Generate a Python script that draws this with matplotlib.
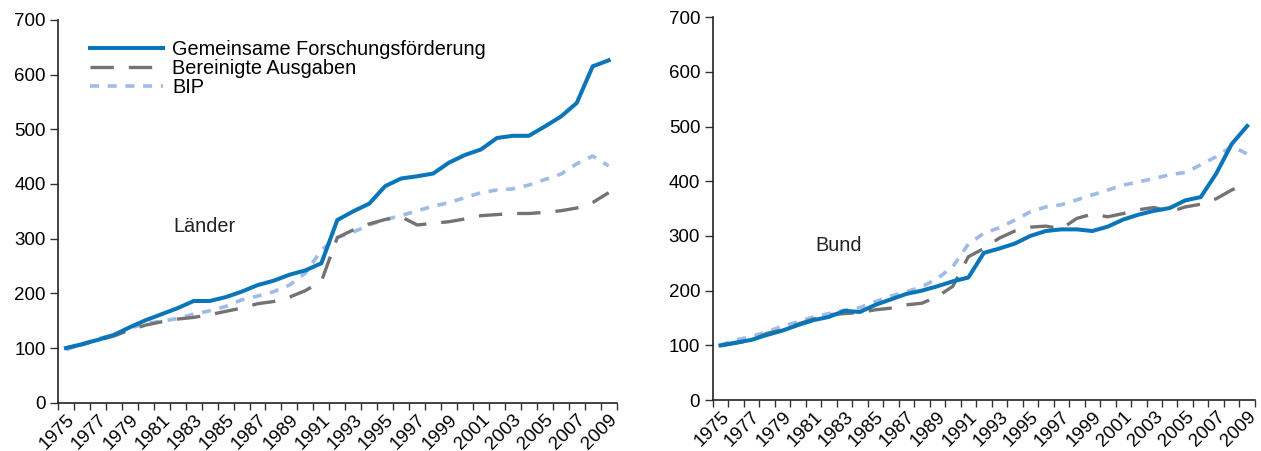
import numpy as np
import matplotlib
matplotlib.use("Agg")
import matplotlib.pyplot as plt
from matplotlib.transforms import ScaledTranslation

plt.rcParams["font.family"] = ["Liberation Sans", "DejaVu Sans"]

# ============================================================
# Data (index 1975 = 100)
# ============================================================

years = list(range(1975, 2010))

laender_gfo = [100, 107, 115, 124, 138, 151, 162, 173, 186, 186, 193, 203,
               215, 223, 234, 242, 255, 334, 350, 364, 396, 410, 414, 419,
               439, 453, 463, 484, 488, 488, 505, 523, 548, 615, 626]
laender_ausgaben = [100, 106, 114, 122, 133, 142, 148, 153, 156, 161, 167, 173,
                    181, 185, 193, 205, 222, 302, 316, 327, 335, 340, 325, 328,
                    331, 336, 342, 344, 346, 346, 348, 351, 356, 366, 384]
laender_bip = [97, 107, 117, 124, 136, 145, 149, 154, 162, 168, 176, 188,
               195, 203, 215, 237, 279, 302, 312, 325, 335, 342, 351, 359,
               366, 375, 384, 389, 391, 398, 408, 418, 437, 451, 433]

bund_gfo = [100, 105, 110, 119, 127, 137, 146, 152, 163, 161, 174, 184,
            194, 200, 208, 217, 224, 269, 277, 286, 300, 309, 312, 312,
            309, 317, 330, 339, 346, 351, 365, 371, 414, 468, 501]
bund_ausgaben = [99, 104, 109, 122, 128, 139, 148, 156, 158, 160, 165, 168,
                 174, 177, 189, 208, 262, 277, 296, 309, 316, 318, 313, 332,
                 340, 335, 341, 348, 352, 344, 353, 358, 368, 384, 396]
bund_bip = [100, 110, 116, 125, 135, 143, 152, 158, 164, 169, 180, 190,
            198, 207, 222, 244, 285, 305, 315, 329, 344, 353, 357, 366,
            375, 384, 393, 399, 405, 412, 416, 430, 445, 464, 450]

series_labels = ["Gemeinsame Forschungsförderung", "Bereinigte Ausgaben", "BIP"]
panel_titles = ["Länder", "Bund"]

# ============================================================
# Styles
# ============================================================

BLUE = "#0a76b9"
GREY = "#737373"
LIGHT = "#9fbbe6"
TICK_FS = 13.5
TEXT_FS = 14.3

fig = plt.figure(figsize=(12.61, 4.51), dpi=100)
ax_l = fig.add_axes([0.046, 0.107, 0.443, 0.849])
ax_r = fig.add_axes([0.5652, 0.113, 0.430, 0.849])

x = np.arange(len(years))


def draw_panel(ax, gfo, ausgaben, bip, title, title_xy):
    ax.plot(x, bip, color=LIGHT, lw=2.6, dashes=(2.5, 2.4), label=series_labels[2], zorder=2)
    ax.plot(x, ausgaben, color=GREY, lw=2.4, dashes=(7.0, 4.5), label=series_labels[1], zorder=3)
    ax.plot(x, gfo, color=BLUE, lw=2.9, label=series_labels[0], zorder=4)

    ax.set_xlim(-0.5, len(years) - 0.5)
    ax.set_ylim(0, 700)
    ax.set_yticks(range(0, 701, 100))

    ax.set_xticks(np.arange(len(years) + 1) - 0.5, minor=True)
    ax.set_xticks(x[::2])
    ax.set_xticklabels([str(y) for y in years[::2]], rotation=45, ha="right",
                       rotation_mode="anchor", fontsize=TICK_FS)
    shift = ScaledTranslation(5 / 72, 0, fig.dpi_scale_trans)
    for lab in ax.get_xticklabels():
        lab.set_transform(lab.get_transform() + shift)
    ax.tick_params(axis="x", which="major", length=0, pad=6)
    ax.tick_params(axis="x", which="minor", length=5, width=1, direction="out", color="#333333")
    ax.tick_params(axis="y", length=6, width=1, color="#333333", labelsize=TICK_FS, pad=3)

    for s in ["top", "right"]:
        ax.spines[s].set_visible(False)
    for s in ["left", "bottom"]:
        ax.spines[s].set_color("#222222")
        ax.spines[s].set_linewidth(1.2)

    ax.text(title_xy[0], title_xy[1], title, fontsize=TEXT_FS, ha="center", va="center", color="#222222")


draw_panel(ax_l, laender_gfo, laender_ausgaben, laender_bip, panel_titles[0], (8.7, 323))
draw_panel(ax_r, bund_gfo, bund_ausgaben, bund_bip, panel_titles[1], (7.6, 283))

handles, labels = ax_l.get_legend_handles_labels()
order = [2, 1, 0]
ax_l.legend([handles[i] for i in order], [labels[i] for i in order],
            loc="upper left", bbox_to_anchor=(0.057, 0.948), frameon=False,
            fontsize=TEXT_FS, handlelength=3.7, handletextpad=0.45, labelspacing=0.0,
            borderpad=0, borderaxespad=0)

fig.savefig("out.png", dpi=100)
